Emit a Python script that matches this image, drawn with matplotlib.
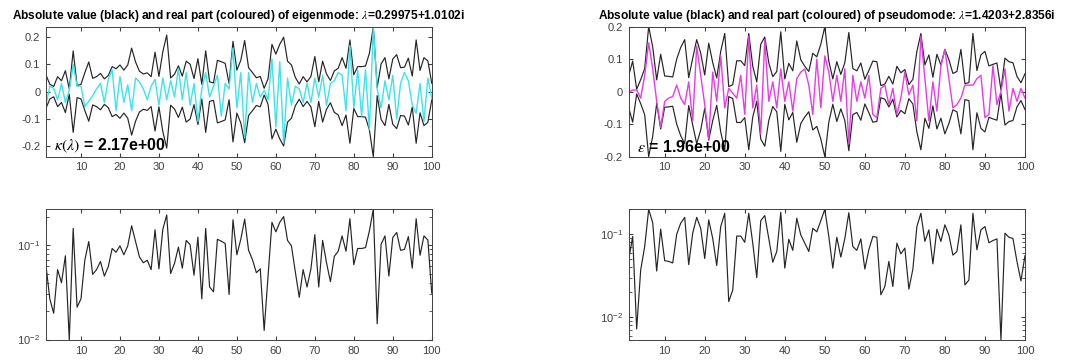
import numpy as np
import matplotlib
matplotlib.use('Agg')
import matplotlib.pyplot as plt
from matplotlib.ticker import FormatStrFormatter

plt.rcParams['font.family'] = ['Liberation Sans', 'DejaVu Sans']
plt.rcParams['mathtext.fontset'] = 'stix'
plt.rcParams['axes.unicode_minus'] = False

# grid index
n = np.arange(1, 101)

# eigenmode (left): absolute value and real part
abs_eig = [0.062, 0.027, 0.019, 0.055, 0.040, 0.077, 0.0099, 0.150, 0.022, 0.027,
           0.070, 0.109, 0.049, 0.055, 0.067, 0.047, 0.059, 0.092, 0.084, 0.098,
           0.079, 0.098, 0.160, 0.109, 0.075, 0.065, 0.069, 0.055, 0.145, 0.056,
           0.147, 0.208, 0.050, 0.064, 0.095, 0.057, 0.112, 0.101, 0.048, 0.121,
           0.027, 0.150, 0.036, 0.032, 0.115, 0.110, 0.104, 0.030, 0.185, 0.079,
           0.115, 0.188, 0.088, 0.070, 0.051, 0.056, 0.0125, 0.047, 0.174, 0.138,
           0.174, 0.200, 0.112, 0.098, 0.052, 0.028, 0.055, 0.036, 0.056, 0.129,
           0.036, 0.112, 0.065, 0.041, 0.076, 0.086, 0.125, 0.086, 0.190, 0.062,
           0.092, 0.092, 0.094, 0.141, 0.239, 0.0147, 0.102, 0.125, 0.047, 0.120,
           0.136, 0.088, 0.090, 0.123, 0.057, 0.190, 0.078, 0.125, 0.113, 0.031]
re_eig = [-0.05, 0.02, 0.012, -0.03, 0.03, -0.04, 0.005, 0.10, 0.02, 0.02,
          -0.055, -0.035, -0.015, 0.01, 0.03, -0.04, 0.045, 0.08, -0.07, 0.055,
          -0.04, 0.025, -0.07, 0.05, 0.035, 0.01, -0.03, 0.02, 0.045, -0.05,
          0.05, -0.03, 0.04, -0.02, 0.085, -0.03, 0.07, -0.05, 0.03, -0.11,
          0.01, 0.07, -0.02, 0.02, 0.06, -0.09, 0.03, 0.01, 0.16, -0.06,
          0.07, -0.17, 0.07, -0.04, 0.03, -0.02, 0.005, -0.03, 0.12, -0.13,
          0.11, -0.19, 0.05, -0.05, 0.02, 0.01, -0.04, 0.03, -0.04, 0.05,
          -0.02, 0.06, -0.05, 0.03, 0.04, 0.07, 0.06, -0.07, 0.17, -0.06,
          0.08, -0.09, 0.08, -0.14, 0.235, 0.01, -0.06, 0.04, -0.03, 0.06,
          -0.10, 0.03, 0.07, 0.04, -0.05, -0.08, 0.03, -0.11, 0.05, -0.025]

# pseudomode (right): absolute value and real part
abs_ps = [0.049, 0.094, 0.0072, 0.037, 0.071, 0.200, 0.138, 0.036, 0.115, 0.048,
          0.047, 0.045, 0.100, 0.136, 0.160, 0.043, 0.103, 0.160, 0.118, 0.051,
          0.149, 0.089, 0.042, 0.124, 0.179, 0.0154, 0.0213, 0.095, 0.095, 0.080,
          0.179, 0.078, 0.030, 0.146, 0.168, 0.089, 0.046, 0.062, 0.184, 0.039,
          0.087, 0.064, 0.156, 0.098, 0.078, 0.062, 0.118, 0.107, 0.146, 0.200,
          0.094, 0.039, 0.092, 0.053, 0.089, 0.182, 0.071, 0.064, 0.088, 0.038,
          0.065, 0.094, 0.092, 0.0186, 0.0234, 0.047, 0.0234, 0.078, 0.058, 0.068,
          0.0218, 0.038, 0.124, 0.179, 0.082, 0.113, 0.044, 0.115, 0.082, 0.130,
          0.098, 0.056, 0.062, 0.130, 0.0245, 0.028, 0.179, 0.065, 0.113, 0.124,
          0.079, 0.084, 0.088, 0.0053, 0.103, 0.092, 0.089, 0.047, 0.0274, 0.055]
re_ps = [-0.003, 0.005, 0.005, -0.02, 0.05, 0.15, 0.07, -0.03, -0.11, -0.03,
         -0.02, -0.015, 0.02, -0.02, -0.04, 0.03, -0.09, 0.14, 0.05, -0.04,
         -0.145, 0.06, -0.03, 0.11, -0.05, 0.01, -0.005, -0.02, 0.05, -0.07,
         0.17, -0.05, 0.02, -0.13, 0.16, -0.03, 0.03, -0.05, 0.07, -0.03,
         0.03, -0.06, 0.04, 0.06, 0.07, 0.02, -0.07, 0.10, -0.05, 0.11,
         0.06, -0.03, 0.05, -0.03, 0.07, -0.16, 0.05, -0.03, 0.03, -0.02,
         0.05, -0.07, -0.08, 0.01, 0.02, -0.04, 0.01, -0.07, -0.02, 0.06,
         -0.01, 0.02, -0.09, 0.17, 0.04, -0.09, 0.03, -0.06, 0.08, 0.13,
         0.04, -0.05, -0.04, -0.02, 0.02, 0.02, 0.02, 0.04, 0.05, -0.08,
         -0.07, 0.08, -0.04, 0.0, 0.07, -0.06, 0.01, -0.03, 0.01, -0.02]

titles = [r'Absolute value (black) and real part (coloured) of eigenmode: $\lambda$=0.29975+1.0102i',
          r'Absolute value (black) and real part (coloured) of pseudomode: $\lambda$=1.4203+2.8356i']
notes = [r'$\kappa(\lambda)$ = 2.17e+00', r'$\epsilon$ = 1.96e+00']
colours = ['#3ce4ea', '#e63ce6']

grey = '#404040'
fig = plt.figure(figsize=(10.65, 3.6), dpi=100)

# [left, width] of each column in figure fractions
cols = [(0.0431, 0.3623), (0.5903, 0.3721)]
data = [(abs_eig, re_eig), (abs_ps, re_ps)]

for k in range(2):
    a, r = np.array(data[k][0]), np.array(data[k][1])
    left, width = cols[k]

    ax = fig.add_axes([left, 0.565, width, 0.361])
    ax.plot(n, a, color='#252525', lw=0.85)
    ax.plot(n, -a, color='#252525', lw=0.85)
    ax.plot(n, r, color=colours[k], lw=1.0)
    m = a.max()
    ax.set_ylim(-m, m)
    ax.set_yticks([-0.2, -0.1, 0, 0.1, 0.2])
    ax.yaxis.set_major_formatter(FormatStrFormatter('%g'))
    ax.set_title(titles[k], fontsize=8.6, fontweight='bold', pad=5.5)
    ax.text(0.022, 0.015, notes[k], transform=ax.transAxes, fontsize=11.5,
            fontweight='bold', ha='left', va='bottom')

    bx = fig.add_axes([left, 0.0556, width, 0.363])
    bx.semilogy(n, a, color='#252525', lw=0.85)
    bx.set_ylim(a.min(), a.max())

    for axx in (ax, bx):
        axx.set_xlim(1, 100)
        axx.set_xticks(np.arange(10, 101, 10))
        axx.tick_params(which='both', direction='in', top=True, right=True,
                        labelsize=8, colors=grey, length=3, pad=4)
        axx.tick_params(which='minor', length=2)
        for s in axx.spines.values():
            s.set_color(grey)
            s.set_linewidth(0.7)

fig.savefig('out.png', dpi=100)
